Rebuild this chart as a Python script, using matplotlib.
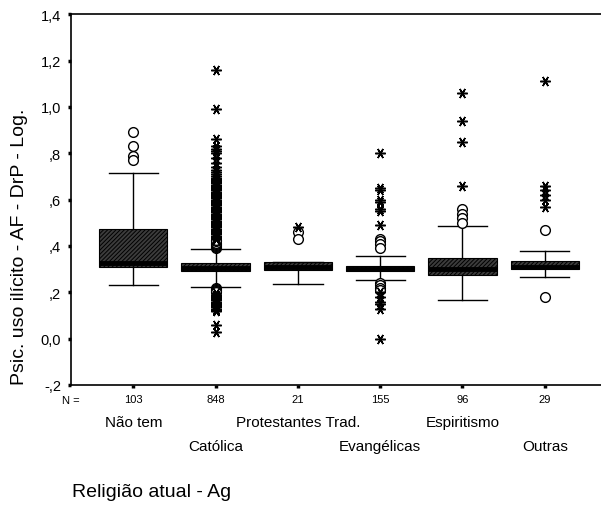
import matplotlib.pyplot as plt

plt.rcParams["font.family"] = ["Liberation Sans", "DejaVu Sans"]
plt.rcParams["hatch.linewidth"] = 0.7
plt.rcParams["hatch.color"] = "black"

groups = ["Não tem", "Católica", "Protestantes Trad.", "Evangélicas", "Espiritismo", "Outras"]
counts = [103, 848, 21, 155, 96, 29]

q1 = [0.31, 0.29, 0.295, 0.29, 0.275, 0.30]
med = [0.325, 0.305, 0.31, 0.30, 0.30, 0.31]
q3 = [0.475, 0.325, 0.33, 0.315, 0.35, 0.335]
whislo = [0.233, 0.224, 0.236, 0.253, 0.168, 0.268]
whishi = [0.716, 0.387, 0.33, 0.358, 0.488, 0.38]

# outliers (circles) and extremes (asterisks) per group
circles = [
    [0.89, 0.83, 0.79, 0.77],
    [0.39, 0.395, 0.40, 0.405, 0.41, 0.415, 0.42, 0.425,
     0.22, 0.215, 0.21, 0.205, 0.20],
    [0.46, 0.43],
    [0.43, 0.42, 0.41, 0.39, 0.24, 0.23, 0.22, 0.21],
    [0.56, 0.54, 0.52, 0.50],
    [0.47, 0.18],
]
extremes = [
    [],
    [0.43, 0.435, 0.44, 0.445, 0.45, 0.455, 0.46, 0.465, 0.47, 0.475, 0.48,
     0.485, 0.49, 0.495, 0.50, 0.505, 0.51, 0.515, 0.52, 0.525, 0.53, 0.535,
     0.54, 0.545, 0.55, 0.555, 0.56, 0.565, 0.57, 0.575, 0.58, 0.585, 0.59,
     0.595, 0.60, 0.605, 0.61, 0.615, 0.62, 0.625, 0.63, 0.635, 0.64, 0.645,
     0.65, 0.655, 0.66, 0.665, 0.67, 0.675, 0.68, 0.685, 0.69, 0.695, 0.70,
     0.71, 0.72, 0.73, 0.74, 0.76, 0.78, 0.80, 0.81, 0.82, 0.83, 0.86, 0.99, 1.16,
     0.195, 0.19, 0.185, 0.18, 0.175, 0.17, 0.165, 0.16, 0.155, 0.15, 0.145,
     0.14, 0.135, 0.13, 0.125, 0.12, 0.06, 0.03],
    [0.48],
    [0.49, 0.55, 0.56, 0.59, 0.60, 0.64, 0.65, 0.80, 0.20, 0.18, 0.16, 0.15, 0.13, 0.00],
    [0.66, 0.85, 0.94, 1.06],
    [0.57, 0.60, 0.62, 0.64, 0.66, 1.11],
]

yticks = [-0.2, 0.0, 0.2, 0.4, 0.6, 0.8, 1.0, 1.2, 1.4]
ytick_labels = ["-,2", "0,0", ",2", ",4", ",6", ",8", "1,0", "1,2", "1,4"]

fig = plt.figure(figsize=(6.01, 5.06), dpi=100)
ax = fig.add_axes([71 / 601, 1 - 386 / 506, 1 - 71 / 601, (386 - 15.3) / 506])

positions = list(range(1, len(groups) + 1))
stats = []
for i in range(len(groups)):
    stats.append(dict(med=med[i], q1=q1[i], q3=q3[i],
                      whislo=whislo[i], whishi=whishi[i], fliers=[]))

bp = ax.bxp(stats, positions=positions, widths=0.83, capwidths=0.6,
            showfliers=False, patch_artist=True,
            boxprops=dict(facecolor="#3c3c3c", edgecolor="black", linewidth=0.8, hatch="////////"),
            medianprops=dict(color="black", linewidth=3.5, solid_capstyle="butt"),
            whiskerprops=dict(color="black", linewidth=1.0),
            capprops=dict(color="black", linewidth=1.0))

for p, c, e in zip(positions, circles, extremes):
    ax.plot([p] * len(c), c, linestyle="none", marker="o", markersize=7,
            markerfacecolor="white", markeredgecolor="black", markeredgewidth=1.0)
    ax.plot([p] * len(e), e, linestyle="none", marker=(6, 2, 90), markersize=7.5,
            color="black", markeredgewidth=1.1)

ax.set_ylim(-0.2, 1.4)
ax.set_xlim(0.243, 6.683)
ax.set_yticks(yticks)
ax.set_yticklabels(ytick_labels, fontsize=10.5)
ax.set_xticks(positions)
ax.set_xticklabels([str(n) for n in counts], fontsize=8)
ax.tick_params(axis="both", direction="out", length=2.5, width=2.5)
ax.tick_params(axis="y", pad=4.5)
ax.tick_params(axis="x", pad=4)
ax.spines["right"].set_visible(False)
for s in ["left", "top", "bottom"]:
    ax.spines[s].set_linewidth(1.2)

trans = ax.get_xaxis_transform()
ax.text(0.243, -0.04, "N =", transform=trans, fontsize=8, ha="center", va="center")
for i, (p, g) in enumerate(zip(positions, groups)):
    y = -0.10 if i % 2 == 0 else -0.165
    ax.text(p, y, g, transform=trans, fontsize=11, ha="center", va="center")

fig.text(20 / 601, 1 - 246.5 / 506, "Psic. uso ilícito - AF - DrP - Log.",
         rotation=90, fontsize=14, ha="center", va="center")
fig.text(72 / 601, 1 - 493 / 506, "Religião atual - Ag", fontsize=14, ha="left", va="center")

fig.savefig("out.png", dpi=100)
